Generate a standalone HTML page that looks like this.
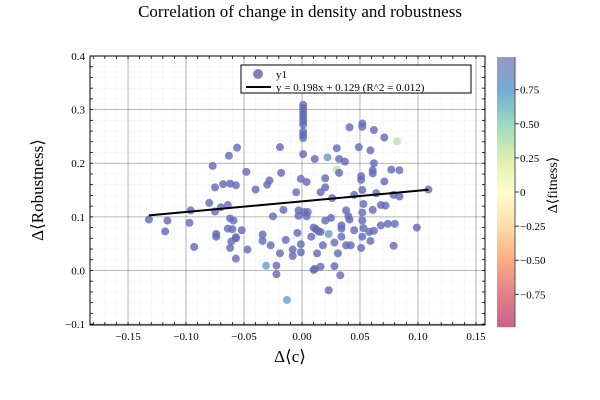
<!DOCTYPE html>
<html><head><meta charset="utf-8"><style>
body{margin:0;background:#fff;}
svg{display:block;font-family:"Liberation Serif",serif;}
</style></head><body>
<svg id="chart" width="600" height="400" viewBox="0 0 600 400">
<text x="300" y="17" text-anchor="middle" font-size="17" fill="#000">Correlation of change in density and robustness</text>
<g id="grid"></g>
<g id="axes"></g>
<g id="points"></g>
<g id="fit"></g>
<g id="legend">
<rect x="241" y="65" width="230" height="28" fill="#fff" stroke="#000" stroke-width="1"/>
<circle cx="258" cy="74" r="5" fill="#6a6ab4" fill-opacity="0.85"/>
<text x="276" y="78" font-size="11">y1</text>
<line x1="246" y1="87" x2="271" y2="87" stroke="#000" stroke-width="2"/>
<text x="276" y="91" font-size="11">y = 0.198x + 0.129 (R^2 = 0.012)</text>
</g>
<g id="cbar"></g>
<text x="290" y="362" text-anchor="middle" font-size="17">Δ⟨c⟩</text>
<text transform="translate(43,190) rotate(-90)" text-anchor="middle" font-size="17">Δ⟨Robustness⟩</text>
<text transform="translate(557,185) rotate(-90)" text-anchor="middle" font-size="14">Δ⟨fitness⟩</text>
</svg>
<script>
const xTicks=[-0.15,-0.10,-0.05,0.00,0.05,0.10,0.15];
const xTickLabels=["−0.15","−0.10","−0.05","0.00","0.05","0.10","0.15"];
const yTicks=[-0.1,0.0,0.1,0.2,0.3,0.4];
const yTickLabels=["−0.1","0.0","0.1","0.2","0.3","0.4"];
const cTicks=[0.75,0.5,0.25,0,-0.25,-0.5,-0.75];
const cTickLabels=["0.75","0.50","0.25","0","−0.25","−0.50","−0.75"];
const fitSlope=0.198;
const fitIntercept=0.129;
const xs=[-0.132,-0.116,-0.118,-0.096,-0.097,-0.093,-0.077,-0.075,-0.068,-0.062,-0.057,-0.063,-0.056,-0.080,-0.075,-0.070,-0.064,-0.062,-0.059,-0.064,-0.060,-0.052,-0.074,-0.074,-0.057,-0.057,-0.061,-0.062,-0.057,-0.047,-0.048,-0.040,-0.030,-0.028,-0.019,-0.018,-0.025,-0.016,-0.034,-0.034,-0.027,-0.014,-0.019,-0.031,-0.022,-0.022,-0.013,
0.001,0.001,0.001,0.001,0.001,0.001,0.001,0.001,0.001,0.001,0.001,
0.041,0.052,0.052,0.062,0.071,0.082,0.030,0.049,0.059,0.011,0.022,0.032,0.037,0.062,0.030,0.032,0.061,0.061,0.077,0.084,-0.001,0.004,0.020,0.051,0.051,0.071,-0.005,0.016,0.020,0.026,0.045,0.052,0.064,0.079,0.084,0.109,0.053,0.061,0.068,0.072,-0.003,0.002,0.005,-0.003,0.004,0.038,0.040,0.041,0.052,0.052,0.025,0.020,0.010,0.012,0.014,0.016,0.023,0.034,0.034,0.045,0.053,0.062,0.058,0.068,0.074,0.080,0.099,0.008,-0.004,0.034,0.052,0.059,-0.001,-0.008,-0.008,-0.001,0.018,0.028,0.038,0.042,0.051,0.079,0.013,0.031,0.010,0.011,0.016,0.028,0.033,0.023];
const ys=[0.095,0.093,0.073,0.112,0.089,0.044,0.195,0.155,0.161,0.162,0.159,0.214,0.229,0.126,0.110,0.118,0.122,0.097,0.093,0.078,0.077,0.075,0.068,0.063,0.062,0.060,0.054,0.042,0.022,0.039,0.184,0.151,0.160,0.168,0.230,0.182,0.101,0.113,0.067,0.055,0.047,0.057,0.032,0.009,0.009,-0.007,-0.055,
0.309,0.303,0.297,0.290,0.284,0.278,0.272,0.259,0.253,0.247,0.217,
0.267,0.274,0.268,0.262,0.248,0.241,0.228,0.230,0.224,0.208,0.211,0.208,0.203,0.200,0.188,0.182,0.187,0.181,0.188,0.187,0.171,0.165,0.172,0.176,0.169,0.166,0.146,0.146,0.155,0.135,0.141,0.150,0.144,0.141,0.138,0.151,0.124,0.113,0.122,0.121,0.112,0.109,0.109,0.102,0.101,0.112,0.101,0.095,0.108,0.093,0.098,0.093,0.080,0.077,0.073,0.072,0.068,0.084,0.078,0.075,0.079,0.074,0.072,0.084,0.087,0.087,0.080,0.063,0.070,0.063,0.063,0.055,0.049,0.039,0.027,0.034,0.047,0.052,0.047,0.047,0.042,0.046,0.032,0.032,0.001,0.003,0.007,0.008,-0.009,-0.037];
const fitness=[0.95,0.95,0.95,0.95,0.95,0.95,0.95,0.95,0.95,0.95,0.95,0.95,0.95,0.95,0.95,0.95,0.95,0.95,0.95,0.95,0.95,0.95,0.95,0.95,0.95,0.95,0.95,0.95,0.95,0.95,0.95,0.95,0.95,0.95,0.95,0.95,0.95,0.95,0.95,0.95,0.95,0.95,0.95,0.8,0.95,0.95,0.8,
0.95,0.95,0.95,0.95,0.95,0.95,0.95,0.95,0.95,0.95,0.95,
0.95,0.95,0.95,0.95,0.95,0.35,0.95,0.95,0.95,0.95,0.8,0.95,0.95,0.95,0.35,0.95,0.95,0.95,0.95,0.95,0.95,0.95,0.95,0.95,0.95,0.95,0.95,0.95,0.95,0.95,0.95,0.95,0.95,0.95,0.95,0.95,0.95,0.95,0.95,0.95,0.95,0.95,0.95,0.95,0.95,0.95,0.95,0.95,0.95,0.95,0.95,0.95,0.95,0.95,0.95,0.95,0.8,0.95,0.95,0.95,0.95,0.95,0.95,0.95,0.95,0.95,0.95,0.95,0.95,0.95,0.95,0.95,0.95,0.95,0.95,0.95,0.95,0.95,0.95,0.95,0.95,0.95,0.95,0.95,0.95,0.95,0.95,0.95,0.95,0.95];

const NS="http://www.w3.org/2000/svg";
const L=90,R=485,T=56,B=325;
const xMin=-0.1828,xMax=0.1578,yMin=-0.1017,yMax=0.4;
function sx(v){return L+(v-xMin)/(xMax-xMin)*(R-L);}
function sy(v){return B-(v-yMin)/(yMax-yMin)*(B-T);}
const cT=57,cB=327,cMin=-0.99,cMax=0.99;
function cy(v){return cB-(v-cMin)/(cMax-cMin)*(cB-cT);}
const stops=[[-1,[190,76,124]],[-0.75,[220,110,122]],[-0.5,[248,160,112]],[-0.25,[254,216,156]],[0,[255,253,200]],[0.25,[216,238,160]],[0.5,[141,211,184]],[0.75,[94,162,204]],[1,[140,134,192]]];
function cmapArr(v){for(let i=0;i<stops.length-1;i++){const a=stops[i],b=stops[i+1];if(v<=b[0]){const t=(v-a[0])/(b[0]-a[0]);return a[1].map((q,k)=>Math.round(q+(b[1][k]-q)*t));}}return [140,134,192];}
function cmap(v){return "rgb("+cmapArr(v).join(",")+")";}
function cmapPt(v){const c=cmapArr(v);if(v<0.85)return "rgb("+c.join(",")+")";return "rgb("+Math.round(c[0]*0.75)+","+Math.round(c[1]*0.75)+","+Math.round(c[2]*0.95)+")";}
function mk(tag,attrs,parent){const e=document.createElementNS(NS,tag);for(const k in attrs)e.setAttribute(k,attrs[k]);parent.appendChild(e);return e;}
const grid=document.getElementById('grid');
mk('rect',{x:L,y:T,width:R-L,height:B-T,fill:'#fff'},grid);
for(let v=-0.18;v<=0.158;v+=0.01){const x=sx(v);const g=mk('line',{x1:x,x2:x,y1:T,y2:B,stroke:'#000','stroke-opacity':0.06,'stroke-width':0.5},grid);

}
for(let v=-0.1;v<=0.4001;v+=0.02){const y=sy(v);const g=mk('line',{x1:L,x2:R,y1:y,y2:y,stroke:'#000','stroke-opacity':0.06,'stroke-width':0.5},grid);

}
const axes=document.getElementById('axes');
xTicks.forEach((v,i)=>{const x=sx(v);
const g=mk('line',{x1:x,x2:x,y1:T,y2:B,stroke:'#000','stroke-opacity':0.35,'stroke-width':0.8},grid);


const t=mk('text',{x:x,y:B+15,'text-anchor':'middle','font-size':11},axes);t.textContent=xTickLabels[i];

});
yTicks.forEach((v,i)=>{const y=sy(v);
const g=mk('line',{x1:L,x2:R,y1:y,y2:y,stroke:'#000','stroke-opacity':0.35,'stroke-width':0.8},grid);


const t=mk('text',{x:L-5,y:y+4,'text-anchor':'end','font-size':11},axes);t.textContent=yTickLabels[i];

});
for(let v=-0.18;v<=0.158;v+=0.01){const x=sx(v);mk('line',{x1:x,x2:x,y1:B,y2:B-3,stroke:'#000','stroke-width':0.8},axes);mk('line',{x1:x,x2:x,y1:T,y2:T+3,stroke:'#000','stroke-width':0.8},axes);}
for(let v=-0.1;v<=0.4001;v+=0.02){const y=sy(v);mk('line',{x1:L,x2:L+3,y1:y,y2:y,stroke:'#000','stroke-width':0.8},axes);mk('line',{x1:R,x2:R-3,y1:y,y2:y,stroke:'#000','stroke-width':0.8},axes);}
const fr=mk('rect',{x:L,y:T,width:R-L,height:B-T,fill:'none',stroke:'#000','stroke-width':1},axes);


const pts=document.getElementById('points');
xs.forEach((v,i)=>{const c=mk('circle',{cx:sx(v),cy:sy(ys[i]),r:4,fill:cmapPt(fitness[i]),'fill-opacity':0.8},pts);

});
const fit=document.getElementById('fit');
const x0=Math.min(...xs),x1=Math.max(...xs);
const fl=mk('line',{x1:sx(x0),y1:sy(fitSlope*x0+fitIntercept),x2:sx(x1),y2:sy(fitSlope*x1+fitIntercept),stroke:'#000','stroke-width':2},fit);


const cb=document.getElementById('cbar');
for(let y=cT;y<cB;y++){const v=cMax-(y-cT)/(cB-cT)*(cMax-cMin);mk('rect',{x:497,y:y,width:18,height:1.2,fill:cmap(v),'fill-opacity':0.85},cb);}
const cf=mk('line',{x1:515,x2:515,y1:cT,y2:cB,stroke:'#555','stroke-width':1},cb);


cTicks.forEach((v,i)=>{const y=cy(v);mk('line',{x1:515,x2:519,y1:y,y2:y,stroke:'#000','stroke-width':0.8},cb);
const t=mk('text',{x:520,y:y+4,'font-size':11},cb);t.textContent=cTickLabels[i];

});
</script>
</body></html>
